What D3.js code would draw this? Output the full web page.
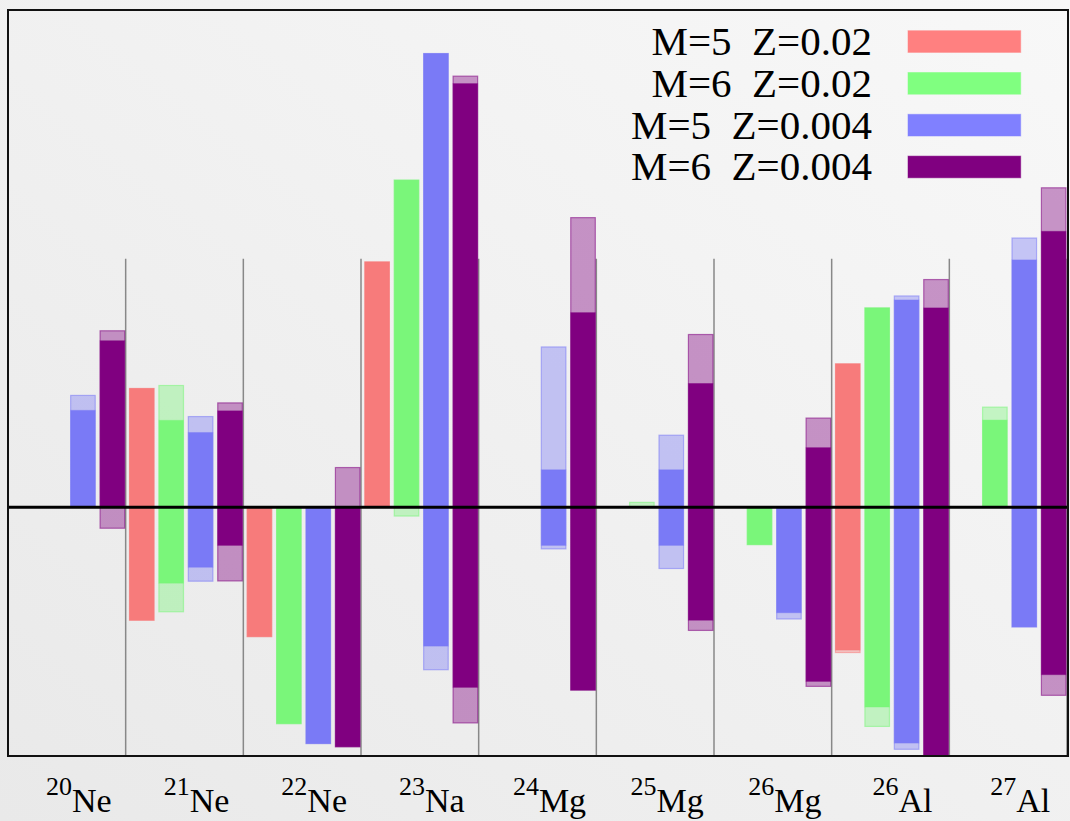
<!DOCTYPE html>
<html lang="en">
  <head>
    <meta charset="UTF-8" />
    <title>isotope yields</title>
    <style>
      body { margin: 0; }
      svg text { font-family: "Liberation Serif", "Noto Serif", "DejaVu Serif", FreeSerif, "Nimbus Roman No9 L", "Noto Serif CJK SC", serif; }
    </style>
  </head>
  <body>
    <svg id="svg" width="1070" height="821"></svg>
    <script src="https://cdn.jsdelivr.net/npm/d3@7/dist/d3.min.js"></script>
    <script>
      // isotopes on the x axis
      const massNumbers = ['20', '21', '22', '23', '24', '25', '26', '26', '27']
      const elements = ['Ne', 'Ne', 'Ne', 'Na', 'Mg', 'Mg', 'Mg', 'Al', 'Al']

      const seriesNames = ['M=5  Z=0.02', 'M=6  Z=0.02', 'M=5  Z=0.004', 'M=6  Z=0.004']

      // each entry: [outer low, inner low, inner high, outer high], null = no bar
      const m5z02 = [
        null, [-0.454, -0.454, 0.478, 0.478], [-0.52, -0.52, 0, 0], [0, 0, 0.987, 0.987],
        null, null, null, [-0.584, -0.574, 0.577, 0.577], null
      ]
      const m6z02 = [
        null, [-0.42, -0.305, 0.35, 0.49], [-0.87, -0.87, 0, 0], [-0.035, 0, 1.316, 1.316],
        null, [0, 0, 0, 0.02], [-0.15, -0.15, 0, 0], [-0.881, -0.803, 0.802, 0.802], [0, 0, 0.351, 0.403]
      ]
      const m5z004 = [
        [0, 0, 0.39, 0.45], [-0.297, -0.241, 0.301, 0.365], [-0.95, -0.95, 0, 0], [-0.653, -0.558, 1.825, 1.825],
        [-0.167, -0.153, 0.151, 0.645], [-0.246, -0.153, 0.151, 0.29], [-0.449, -0.424, 0, 0],
        [-0.973, -0.948, 0.834, 0.85], [-0.481, -0.481, 0.995, 1.083]
      ]
      const m6z004 = [
        [-0.084, 0, 0.67, 0.71], [-0.296, -0.153, 0.388, 0.42], [-0.963, -0.963, 0, 0.16], [-0.867, -0.724, 1.704, 1.734],
        [-0.735, -0.735, 0.783, 1.165], [-0.495, -0.454, 0.498, 0.695], [-0.72, -0.7, 0.24, 0.359],
        [-1.0, -1.0, 0.802, 0.916], [-0.756, -0.673, 1.11, 1.285]
      ]

      const allSeries = [m5z02, m6z02, m5z004, m6z004]
      const legendColors = ['#ff8080', '#80ff80', '#8080ff', '#800080']
      const barColors = ['#f77b7b', '#7af67a', '#7a7af6', '#800080']

      const svg = d3.select('#svg')
      const width = +svg.attr('width')
      const height = +svg.attr('height')
      const plot = { left: 8, top: 10, right: 1068, bottom: 756 }

      // background gradient
      const defs = svg.append('defs')
      const grad = defs.append('linearGradient').attr('id', 'bg')
        .attr('x1', '0').attr('y1', '1').attr('x2', '1').attr('y2', '0')
      grad.append('stop').attr('offset', '0%').attr('stop-color', '#e9e9e9')
      grad.append('stop').attr('offset', '100%').attr('stop-color', '#f8f8f8')
      svg.append('rect').attr('width', width).attr('height', height).attr('fill', 'url(#bg)')

      defs.append('clipPath').attr('id', 'clip').append('rect')
        .attr('x', plot.left).attr('y', plot.top)
        .attr('width', plot.right - plot.left).attr('height', plot.bottom - plot.top)

      const cats = d3.range(massNumbers.length)
      const x = d3.scaleBand().domain(cats).range([plot.left, 1067]).padding(0)
      const xs = d3.scaleBand().domain(d3.range(4)).range([0, x.bandwidth()]).padding(0)
      const barW = xs.bandwidth() * 0.835
      const barOff = xs.bandwidth() * 0.13
      const y = d3.scaleLinear().domain([-1, 2]).range([plot.bottom, plot.top])

      // category separators
      const bounds = cats.map((c) => x(c)).concat([x(cats.length - 1) + x.bandwidth()])
      svg.append('g').selectAll('line').data(bounds).enter().append('line')
        .attr('x1', (d) => d).attr('x2', (d) => d)
        .attr('y1', y(1)).attr('y2', y(-1))
        .attr('stroke', '#888').attr('stroke-width', 1.5)

      const bars = svg.append('g').attr('clip-path', 'url(#clip)')
      allSeries.forEach((series, s) => {
        const g = bars.append('g')
        const items = series.map((d, i) => ({ d, i })).filter((e) => e.d)
        // light outer range
        g.selectAll('rect.outer').data(items).enter().append('rect')
          .attr('class', 'outer')
          .attr('x', (e) => x(e.i) + xs(s) + barOff)
          .attr('width', barW)
          .attr('y', (e) => y(e.d[3]))
          .attr('height', (e) => y(e.d[0]) - y(e.d[3]))
          .attr('fill', barColors[s]).attr('fill-opacity', 0.4)
          .attr('stroke', barColors[s]).attr('stroke-opacity', 0.55).attr('stroke-width', 1.2)
        // solid inner range
        g.selectAll('rect.inner').data(items.filter((e) => e.d[2] > e.d[1])).enter().append('rect')
          .attr('class', 'inner')
          .attr('x', (e) => x(e.i) + xs(s) + barOff)
          .attr('width', barW)
          .attr('y', (e) => y(e.d[2]))
          .attr('height', (e) => y(e.d[1]) - y(e.d[2]))
          .attr('fill', barColors[s])
          .attr('stroke', barColors[s]).attr('stroke-opacity', 0.4).attr('stroke-width', 1)
      })

      // zero line
      svg.append('line')
        .attr('x1', plot.left).attr('x2', plot.right)
        .attr('y1', y(0)).attr('y2', y(0))
        .attr('stroke', '#000').attr('stroke-width', 3)

      // frame
      svg.append('rect')
        .attr('x', plot.left).attr('y', plot.top)
        .attr('width', plot.right - plot.left).attr('height', plot.bottom - plot.top)
        .attr('fill', 'none').attr('stroke', '#111').attr('stroke-width', 2)

      // isotope labels
      const labels = svg.append('g').selectAll('text').data(cats).enter().append('text')
        .attr('x', (i) => x(i) + x.bandwidth() / 2 + 12)
        .attr('y', 812)
        .attr('text-anchor', 'middle')
        .attr('fill', '#000')
      labels.append('tspan').attr('font-size', 26).attr('dy', -17).text((i) => massNumbers[i])
      labels.append('tspan').attr('font-size', 34).attr('dy', 17).text((i) => elements[i])

      // legend
      const legend = svg.append('g')
      seriesNames.forEach((name, s) => {
        const base = 55 + s * 41.8
        legend.append('text')
          .attr('x', 872).attr('y', base)
          .attr('text-anchor', 'end')
          .attr('font-size', 41)
          .style('white-space', 'pre')
          .attr('fill', '#000')
          .text(name)
        legend.append('rect')
          .attr('x', 908).attr('y', base - 24.3)
          .attr('width', 112.7).attr('height', 21.7)
          .attr('fill', legendColors[s])
          .attr('stroke', legendColors[s]).attr('stroke-opacity', 0.5).attr('stroke-width', 1)
      })
    </script>
  </body>
</html>
